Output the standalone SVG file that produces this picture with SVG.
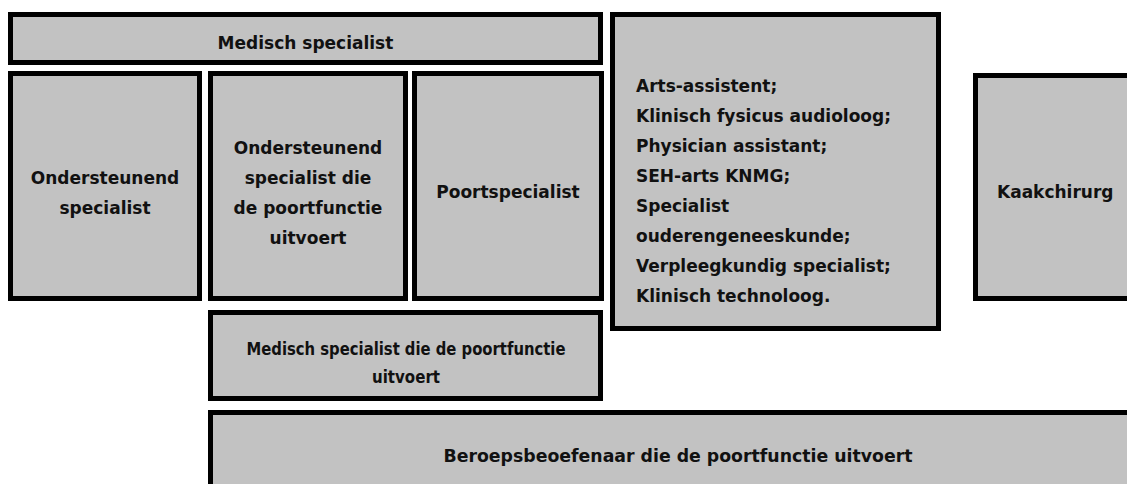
<svg xmlns="http://www.w3.org/2000/svg" width="1127" height="484" viewBox="0 0 1127 484">
  <style>
    .box { fill: #c2c2c2; stroke: #000; stroke-width: 5; }
    .t { font-family: "DejaVu Sans", Verdana, sans-serif; font-weight: bold; font-size: 17px; fill: #111; }
    .c { text-anchor: middle; }
  </style>
  <rect x="0" y="0" width="1127" height="484" fill="#fff"/>
  <g id="connectors"/>
  <g id="medisch-specialist">
    <rect class="box" x="10.5" y="14.5" width="590" height="48"/>
    <text class="t c" x="305.5" y="49">Medisch specialist</text>
  </g>
  <g id="ondersteunend-specialist">
    <rect class="box" x="10.5" y="73.5" width="189" height="225"/>
    <text class="t c" x="105" y="184">Ondersteunend</text>
    <text class="t c" x="105" y="214">specialist</text>
  </g>
  <g id="ondersteunend-poort">
    <rect class="box" x="210.5" y="73.5" width="195" height="225"/>
    <text class="t c" x="308" y="154">Ondersteunend</text>
    <text class="t c" x="308" y="184">specialist die</text>
    <text class="t c" x="308" y="214">de poortfunctie</text>
    <text class="t c" x="308" y="244">uitvoert</text>
  </g>
  <g id="poortspecialist">
    <rect class="box" x="414.5" y="73.5" width="187" height="225"/>
    <text class="t c" x="508" y="198">Poortspecialist</text>
  </g>
  <g id="overige">
    <rect class="box" x="612.5" y="14.5" width="326" height="314"/>
    <text class="t" x="636" y="92">Arts-assistent;</text>
    <text class="t" x="636" y="122">Klinisch fysicus audioloog;</text>
    <text class="t" x="636" y="152">Physician assistant;</text>
    <text class="t" x="636" y="182">SEH-arts KNMG;</text>
    <text class="t" x="636" y="212">Specialist</text>
    <text class="t" x="636" y="242">ouderengeneeskunde;</text>
    <text class="t" x="636" y="272">Verpleegkundig specialist;</text>
    <text class="t" x="636" y="302">Klinisch technoloog.</text>
  </g>
  <g id="kaakchirurg">
    <rect class="box" x="975.5" y="75.5" width="160" height="223"/>
    <text class="t" x="997" y="198">Kaakchirurg</text>
  </g>
  <g id="medisch-specialist-poort">
    <rect class="box" x="210.5" y="312.5" width="390" height="86"/>
    <text class="t c" x="406" y="355" textLength="319" lengthAdjust="spacingAndGlyphs">Medisch specialist die de poortfunctie</text>
    <text class="t c" x="406" y="383" textLength="68" lengthAdjust="spacingAndGlyphs">uitvoert</text>
  </g>
  <g id="beroepsbeoefenaar">
    <rect class="box" x="210.5" y="412.5" width="925" height="80"/>
    <text class="t c" x="678" y="462" textLength="469" lengthAdjust="spacingAndGlyphs">Beroepsbeoefenaar die de poortfunctie uitvoert</text>
  </g>
</svg>
